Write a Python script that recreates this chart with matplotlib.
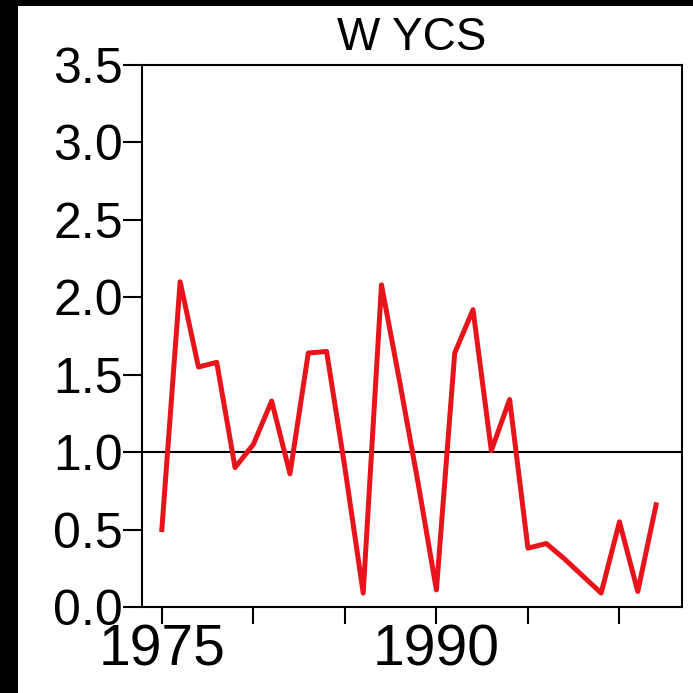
import matplotlib.pyplot as plt
from matplotlib.patches import Rectangle

years = list(range(1975, 2003))
ycs = [0.50, 2.10, 1.55, 1.58, 0.90, 1.05, 1.33, 0.86, 1.64, 1.65,
       0.90, 0.09, 2.08, 1.45, 0.80, 0.11, 1.64, 1.92, 1.01, 1.34,
       0.38, 0.41, 0.31, 0.20, 0.09, 0.55, 0.10, 0.66]

xticks = [1975, 1980, 1985, 1990, 1995, 2000]
xticklabels = ["1975", "", "", "1990", "", ""]
yticks = [0.0, 0.5, 1.0, 1.5, 2.0, 2.5, 3.0, 3.5]

plt.rcParams["font.family"] = ["Liberation Sans", "DejaVu Sans"]

fig = plt.figure(figsize=(6.93, 6.93), dpi=100)
fig.patch.set_facecolor("black")
# white page with a black strip down the left and along the top
page = Rectangle((18 / 693, 0), 1, 1 - 6 / 693, transform=fig.transFigure,
                 facecolor="white", edgecolor="none", zorder=-10)
fig.add_artist(page)

ax = fig.add_axes([141.7 / 693, 86 / 693, 540 / 693, 542 / 693])
ax.set_zorder(1)
ax.plot(years, ycs, color="#e8141c", lw=3.6, zorder=3)
ax.axhline(1.0, color="black", lw=1.5, zorder=2)

ax.set_xlim(1973.9, 2003.4)
ax.set_ylim(0, 3.5)
ax.set_xticks(xticks)
ax.set_xticklabels(xticklabels)
ax.set_yticks(yticks)
ax.set_yticklabels([f"{v:.1f}" for v in yticks])
ax.tick_params(axis="x", direction="out", length=12, width=1.5, pad=0,
               labelsize=41)
ax.tick_params(axis="y", direction="out", length=13.5, width=1.5, pad=0,
               labelsize=36)
for spine in ax.spines.values():
    spine.set_linewidth(1.5)

ax.set_title("W YCS", fontsize=33, pad=11)

fig.savefig("out.png", dpi=100, facecolor=fig.get_facecolor())
